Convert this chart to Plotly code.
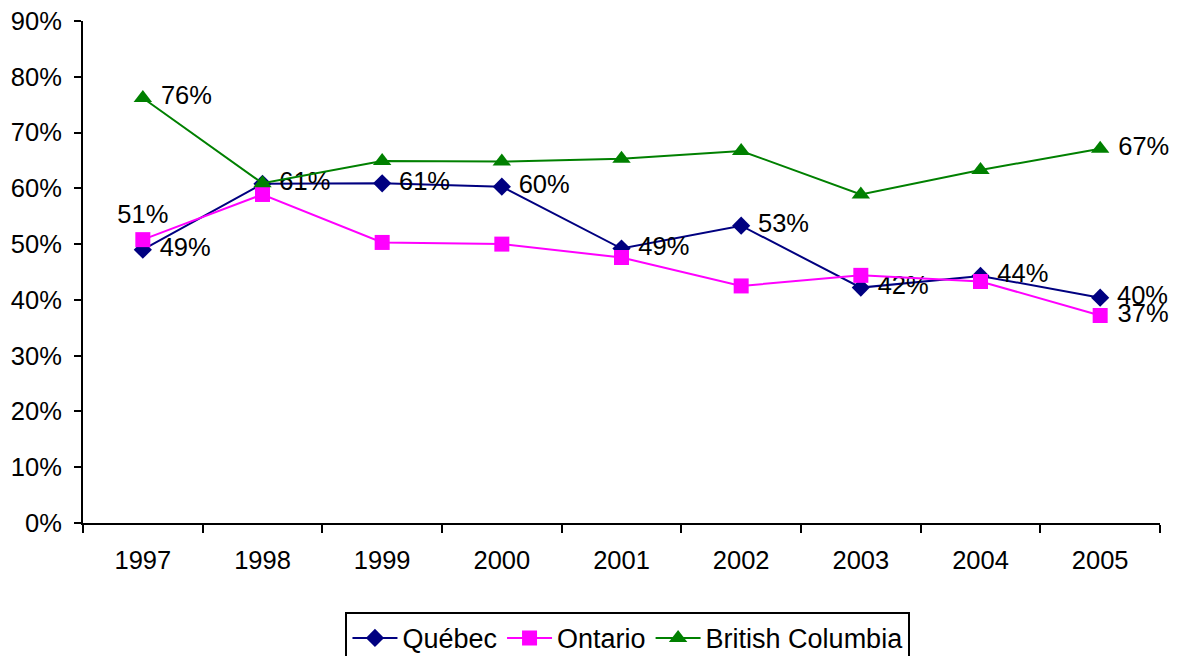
import plotly.graph_objects as go

years = ["1997", "1998", "1999", "2000", "2001", "2002", "2003", "2004", "2005"]
quebec = [49.0, 60.8, 60.9, 60.3, 49.2, 53.3, 42.2, 44.3, 40.4]
ontario = [50.8, 58.9, 50.3, 50.0, 47.6, 42.5, 44.4, 43.3, 37.2]
bc = [76.2, 60.9, 64.9, 64.8, 65.3, 66.7, 58.9, 63.3, 67.1]

quebec_labeled = [True] * 9
ontario_labeled = [True, False, False, False, False, False, False, False, True]
bc_labeled = [True, False, False, False, False, False, False, False, True]

FONT = "Liberation Sans, Arial, sans-serif"
FS = 25.5


def labels(vals, flags, positions):
    out = []
    for v, f, p in zip(vals, flags, positions):
        if not f:
            out.append("")
        elif p == "middle right":
            out.append(f" {v:.0f}%")
        else:
            out.append(f"{v:.0f}%")
    return out


q_pos = ["middle right"] * 9
o_pos = ["top center"] + ["middle right"] * 8
b_pos = ["middle right"] * 9

fig = go.Figure()
fig.add_trace(go.Scatter(
    x=years, y=quebec, name="Québec", mode="lines+markers+text",
    line=dict(color="#000080", width=2),
    marker=dict(symbol="diamond", size=14, color="#000080"),
    text=labels(quebec, quebec_labeled, q_pos), textposition=q_pos,
    textfont=dict(size=FS, color="black", family=FONT),
    cliponaxis=False,
))
fig.add_trace(go.Scatter(
    x=years, y=ontario, name="Ontario", mode="lines+markers+text",
    line=dict(color="#FF00FF", width=2),
    marker=dict(symbol="square", size=15, color="#FF00FF"),
    text=labels(ontario, ontario_labeled, o_pos), textposition=o_pos,
    textfont=dict(size=FS, color="black", family=FONT),
    cliponaxis=False,
))
fig.add_trace(go.Scatter(
    x=years, y=bc, name="British Columbia", mode="lines+markers+text",
    line=dict(color="#008000", width=2),
    marker=dict(symbol="triangle-up", size=16, color="#008000"),
    text=labels(bc, bc_labeled, b_pos), textposition=b_pos,
    textfont=dict(size=FS, color="black", family=FONT),
    cliponaxis=False,
))

fig.update_layout(
    width=1171, height=648,
    margin=dict(l=75, r=19, t=13, b=133, autoexpand=False),
    plot_bgcolor="white", paper_bgcolor="white",
    font=dict(family=FONT, size=FS, color="black"),
    showlegend=True,
    legend=dict(
        orientation="h", x=0.506, xanchor="center", y=-0.177, yanchor="top",
        bordercolor="black", borderwidth=2, font=dict(size=27, family=FONT),
        traceorder="normal", itemwidth=45,
    ),
    xaxis=dict(
        type="category", range=[-0.5, 8.5], showline=True, linecolor="black",
        linewidth=2, ticks="outside", tickson="boundaries", ticklen=8,
        tickwidth=2, tickcolor="black", showgrid=False, zeroline=False,
        tickfont=dict(size=FS, family=FONT), automargin=False,
        ticklabelstandoff=13, ticklabeloverflow="allow",
    ),
    yaxis=dict(
        range=[0, 90], dtick=10, ticksuffix="%", showline=True,
        linecolor="black", linewidth=2, ticks="outside", ticklen=7,
        tickwidth=2, tickcolor="black", showgrid=False, zeroline=False,
        tickfont=dict(size=FS, family=FONT), automargin=False,
        ticklabelstandoff=7, ticklabeloverflow="allow",
    ),
)

fig.write_html("out.html")
